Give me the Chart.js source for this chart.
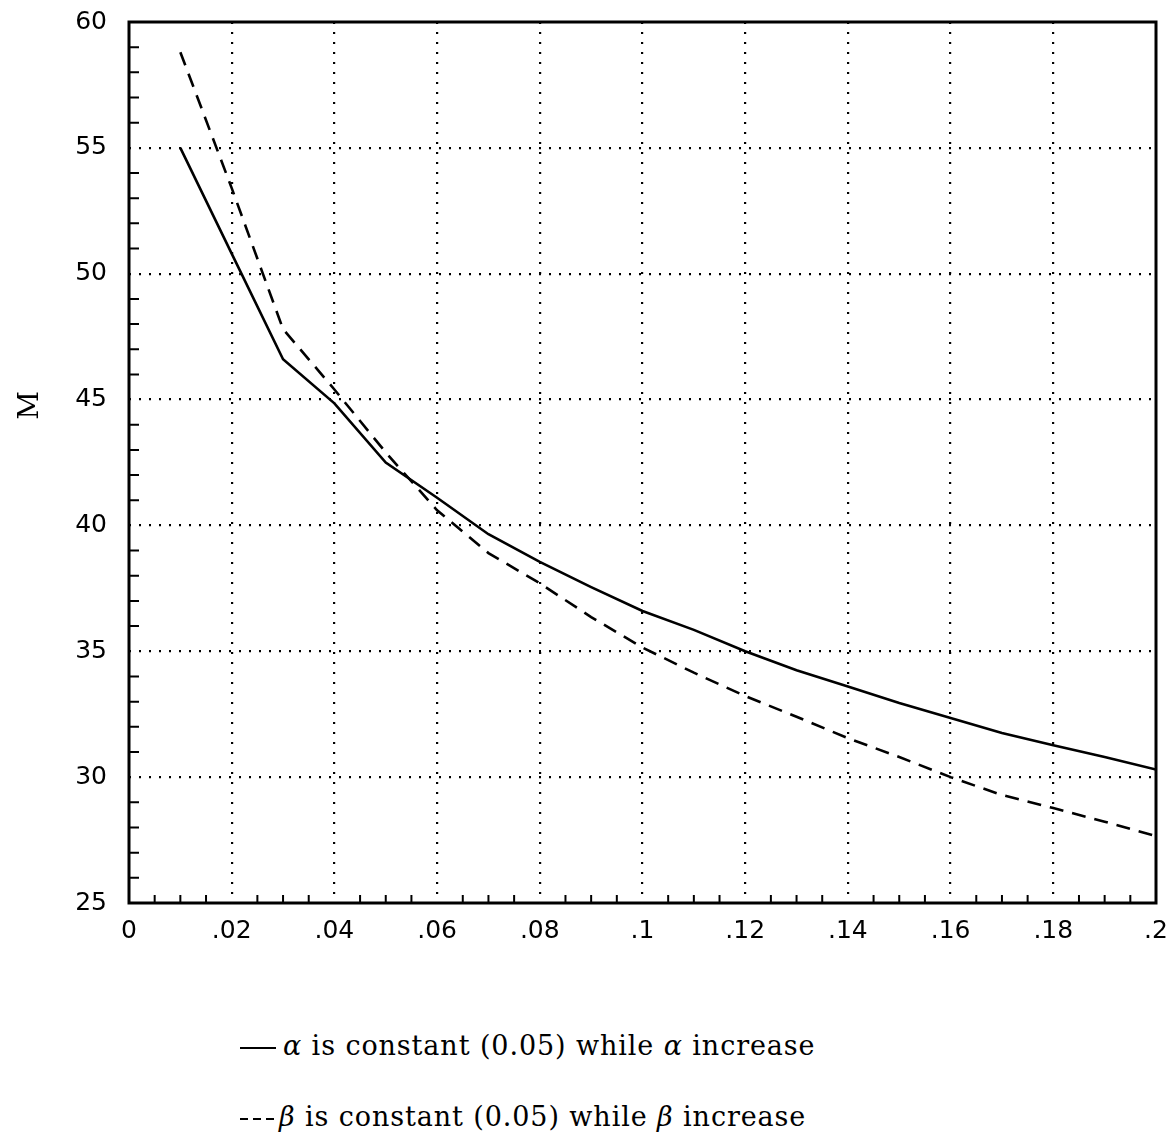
<!DOCTYPE html>
<html>
<head>
<meta charset="utf-8">
<script src="https://cdn.jsdelivr.net/npm/chart.js@4/dist/chart.umd.min.js"></script>
<style>
  html, body { margin: 0; padding: 0; background: #fff; }
  #wrap { position: relative; width: 1172px; height: 1138px; }
  #box { position: absolute; left: 0; top: 0; width: 1172px; height: 962px; }
  .leg { position: absolute; left: 240px; font-family: "DejaVu Serif", serif; font-size: 27px; letter-spacing: 0.9px; line-height: 30px; color: #000; white-space: nowrap; }
  .leg i { font-style: italic; }
  .solid { display: inline-block; width: 36px; height: 2px; background: #000; vertical-align: middle; margin-right: 7px; }
  .dash { display: inline-block; width: 36px; height: 2px; vertical-align: middle; margin-right: 3px;
          background: repeating-linear-gradient(to right, #000 0 8px, transparent 8px 13px); }
</style>
</head>
<body>
<div id="wrap">
  <div id="box"><canvas id="c"></canvas></div>
  <div class="leg" style="top:1031px"><span class="solid"></span><i>α</i> is constant (0.05) while <i>α</i> increase</div>
  <div class="leg" style="top:1102px"><span class="dash"></span><i>β</i> is constant (0.05) while <i>β</i> increase</div>
</div>
<script>
// ---- data ----
const xValues = [0.01, 0.02, 0.03, 0.04, 0.05, 0.06, 0.07, 0.08, 0.09, 0.10,
                 0.11, 0.12, 0.13, 0.14, 0.15, 0.16, 0.17, 0.18, 0.19, 0.20];
const alphaSeries = [55.0, 50.8, 46.6, 44.85, 42.5, 41.1, 39.65, 38.55, 37.55, 36.6,
                     35.85, 35.0, 34.25, 33.6, 32.95, 32.35, 31.75, 31.27, 30.8, 30.3];
const betaSeries  = [58.8, 53.4, 47.8, 45.4, 42.9, 40.6, 38.9, 37.7, 36.36, 35.15,
                     34.15, 33.22, 32.4, 31.55, 30.8, 30.0, 29.29, 28.77, 28.23, 27.66];
const xTickLabels = ['0', '.02', '.04', '.06', '.08', '.1', '.12', '.14', '.16', '.18', '.2'];
const yTickLabels = ['25', '30', '35', '40', '45', '50', '55', '60'];
const seriesNames = ['α is constant (0.05) while α increase', 'β is constant (0.05) while β increase'];
const yAxisTitle = 'M';

const X_MIN = 0, X_MAX = 0.2, Y_MIN = 25, Y_MAX = 60;

const toPts = arr => arr.map((v, i) => ({ x: xValues[i], y: v }));

const gridColor = c => (c.index === 0 || (c.scale && c.index === c.scale.ticks.length - 1)) ? 'rgba(0,0,0,0)' : '#000';

const framePlugin = {
  id: 'framePlugin',
  afterDatasetsDraw(chart) {
    const { ctx, chartArea: a, scales: { x, y } } = chart;
    ctx.save();
    ctx.strokeStyle = '#000';
    ctx.lineWidth = 2;
    ctx.setLineDash([]);
    ctx.beginPath();
    for (let v = Y_MIN + 1; v < Y_MAX; v++) {
      if (v % 5 === 0) continue;
      const py = y.getPixelForValue(v);
      ctx.moveTo(a.left, py); ctx.lineTo(a.left + 10, py);
    }
    for (let i = 1; i < 40; i++) {
      if (i % 4 === 0) continue;
      const px = x.getPixelForValue(i * 0.005);
      ctx.moveTo(px, a.bottom); ctx.lineTo(px, a.bottom - 8);
    }
    ctx.stroke();
    ctx.lineWidth = 3;
    ctx.strokeRect(a.left, a.top, a.right - a.left, a.bottom - a.top);
    // y axis title
    ctx.fillStyle = '#000';
    ctx.font = '28px "DejaVu Serif", serif';
    ctx.textAlign = 'center';
    ctx.textBaseline = 'middle';
    ctx.translate(31, (a.top + a.bottom) / 2 - 57);
    ctx.rotate(-Math.PI / 2);
    ctx.fillText(yAxisTitle, 0, 0);
    ctx.restore();
  }
};

new Chart(document.getElementById('c'), {
  type: 'line',
  data: {
    datasets: [
      { label: seriesNames[0], data: toPts(alphaSeries), borderColor: '#000', borderWidth: 2.6,
        pointRadius: 0, tension: 0, fill: false },
      { label: seriesNames[1], data: toPts(betaSeries), borderColor: '#000', borderWidth: 2.6,
        borderDash: [14, 9], pointRadius: 0, tension: 0, fill: false }
    ]
  },
  options: {
    responsive: true,
    maintainAspectRatio: false,
    animation: false,
    events: [],
    layout: { padding: { top: 22, right: 16, left: 0, bottom: 0 } },
    plugins: { legend: { display: false }, tooltip: { enabled: false } },
    scales: {
      x: {
        type: 'linear', min: X_MIN, max: X_MAX,
        afterFit: s => { s.height = 59; s.paddingLeft = 0; s.paddingRight = 0; },
        ticks: { stepSize: 0.02, padding: 13, color: '#000', maxRotation: 0, autoSkip: false,
                 font: { family: '"DejaVu Sans", sans-serif', size: 25 },
                 callback: (v, i) => xTickLabels[i] },
        grid: { color: gridColor, lineWidth: 2.2, drawTicks: false },
        border: { display: false, dash: [2, 8] }
      },
      y: {
        type: 'linear', min: Y_MIN, max: Y_MAX,
        afterFit: s => { s.width = 129; s.paddingTop = 0; s.paddingBottom = 0; },
        ticks: { stepSize: 5, padding: 22, color: '#000', autoSkip: false,
                 font: { family: '"DejaVu Sans", sans-serif', size: 25 },
                 callback: (v, i) => yTickLabels[i] },
        grid: { color: gridColor, lineWidth: 2.2, drawTicks: false },
        border: { display: false, dash: [2, 8] }
      }
    }
  },
  plugins: [framePlugin]
});
</script>
</body>
</html>
